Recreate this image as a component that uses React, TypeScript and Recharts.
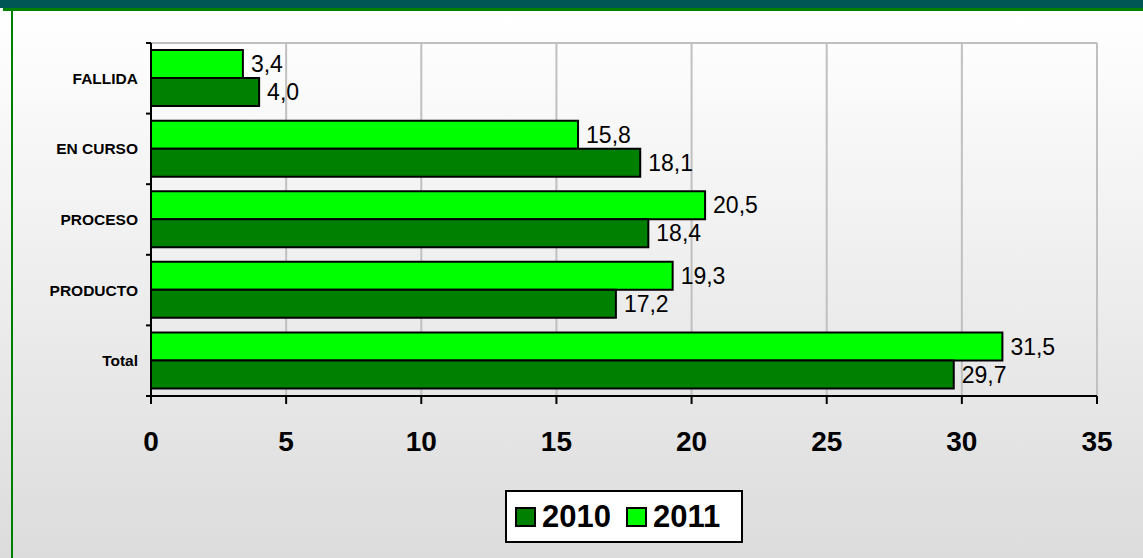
import React from "react";
import {
  BarChart,
  Bar,
  XAxis,
  YAxis,
  CartesianGrid,
  Legend,
  LabelList,
} from "recharts";

const categories = ["FALLIDA", "EN CURSO", "PROCESO", "PRODUCTO", "Total"];
const values2010 = [4.0, 18.1, 18.4, 17.2, 29.7];
const values2011 = [3.4, 15.8, 20.5, 19.3, 31.5];
const xTicks = [0, 5, 10, 15, 20, 25, 30, 35];

const DARK = "#008000";
const LIGHT = "#00ff00";
const FONT = "'Liberation Sans', Arial, sans-serif";
const Y_TICK_SIZE = 5;
const Y_TICK_MARGIN = 8;

const data = categories.map((name, i) => ({
  name,
  y2010: values2010[i],
  y2011: values2011[i],
}));

const fmt = (v: number) => v.toFixed(1).replace(".", ",");

// category label plus Excel-style tick marks on the band boundaries
function CategoryTick(props: any) {
  const { x, y, payload, index, visibleTicksCount, height } = props;
  const half = payload?.offset ? payload.offset : height / visibleTicksCount / 2;
  const axisX = x + Y_TICK_SIZE + Y_TICK_MARGIN;
  return (
    <g>
      <text
        x={x}
        y={y}
        dy="0.355em"
        textAnchor="end"
        fontSize={15.5}
        fontWeight="bold"
        fill="#000"
        fontFamily={FONT}
      >
        {payload.value}
      </text>
      <line x1={axisX - Y_TICK_SIZE} x2={axisX} y1={y - half} y2={y - half} stroke="#000" strokeWidth={2} />
      {index === visibleTicksCount - 1 && (
        <line x1={axisX - Y_TICK_SIZE} x2={axisX} y1={y + half} y2={y + half} stroke="#000" strokeWidth={2} />
      )}
    </g>
  );
}

function LegendBox() {
  const items = [
    { label: "2010", color: DARK },
    { label: "2011", color: LIGHT },
  ];
  return (
    <div
      style={{
        boxSizing: "border-box",
        width: 238,
        height: 53,
        background: "#fff",
        border: "2px solid #000",
        display: "flex",
        alignItems: "center",
        paddingLeft: 8,
        fontFamily: FONT,
        fontWeight: "bold",
        fontSize: 31,
        color: "#000",
      }}
    >
      {items.map((it) => (
        <div key={it.label} style={{ display: "flex", alignItems: "center", marginRight: 15 }}>
          <span
            style={{
              display: "inline-block",
              boxSizing: "border-box",
              width: 21,
              height: 20,
              background: it.color,
              border: "2px solid #000",
              marginRight: 6,
            }}
          />
          <span>{it.label}</span>
        </div>
      ))}
    </div>
  );
}

export default function App() {
  return (
    <div
      style={{
        position: "relative",
        width: 1143,
        height: 558,
        overflow: "hidden",
        background: "linear-gradient(to bottom, #ffffff 0px, #ffffff 11px, #dcdcdc 558px)",
      }}
    >
      <style>{`body{margin:0}`}</style>
      <div style={{ position: "absolute", left: 0, top: 0, width: 1143, height: 8, background: "#005555" }} />
      <div style={{ position: "absolute", left: 3, top: 8, width: 1140, height: 3, background: "#008000" }} />
      <div style={{ position: "absolute", left: 11, top: 8, width: 2, height: 550, background: "#008000" }} />
      <div style={{ position: "absolute", left: 0, top: 0 }}>
        <BarChart
          width={1143}
          height={558}
          data={data}
          layout="vertical"
          margin={{ top: 42, right: 46, left: 11, bottom: 15 }}
          barCategoryGap="10%"
          barGap={0}
        >
          <CartesianGrid horizontal={false} stroke="#c0c0c0" strokeWidth={2} />
          <XAxis
            xAxisId="top"
            orientation="top"
            type="number"
            domain={[0, 35]}
            height={1}
            tick={false}
            tickLine={false}
            axisLine={{ stroke: "#c0c0c0", strokeWidth: 2 }}
          />
          <XAxis
            type="number"
            domain={[0, 35]}
            ticks={xTicks}
            height={94}
            axisLine={{ stroke: "#000", strokeWidth: 2 }}
            tickLine={{ stroke: "#000", strokeWidth: 2 }}
            tickSize={8}
            tickMargin={27}
            tick={{ fontSize: 28, fontWeight: "bold", fill: "#000", fontFamily: FONT }}
          />
          <YAxis
            type="category"
            dataKey="name"
            width={140}
            interval={0}
            axisLine={{ stroke: "#000", strokeWidth: 2 }}
            tickLine={false}
            tickSize={Y_TICK_SIZE}
            tickMargin={Y_TICK_MARGIN}
            tick={<CategoryTick />}
          />
          <Legend
            verticalAlign="bottom"
            content={() => <LegendBox />}
            wrapperStyle={{ left: 505, width: 238, height: 53 }}
          />
          <Bar dataKey="y2011" name="2011" fill={LIGHT} stroke="#000" strokeWidth={2} isAnimationActive={false}>
            <LabelList
              dataKey="y2011"
              position="right"
              offset={8}
              formatter={(v: any) => fmt(Number(v))}
              style={{ fontSize: 23, fill: "#000", fontFamily: FONT }}
            />
          </Bar>
          <Bar dataKey="y2010" name="2010" fill={DARK} stroke="#000" strokeWidth={2} isAnimationActive={false}>
            <LabelList
              dataKey="y2010"
              position="right"
              offset={8}
              formatter={(v: any) => fmt(Number(v))}
              style={{ fontSize: 23, fill: "#000", fontFamily: FONT }}
            />
          </Bar>
        </BarChart>
      </div>
    </div>
  );
}
